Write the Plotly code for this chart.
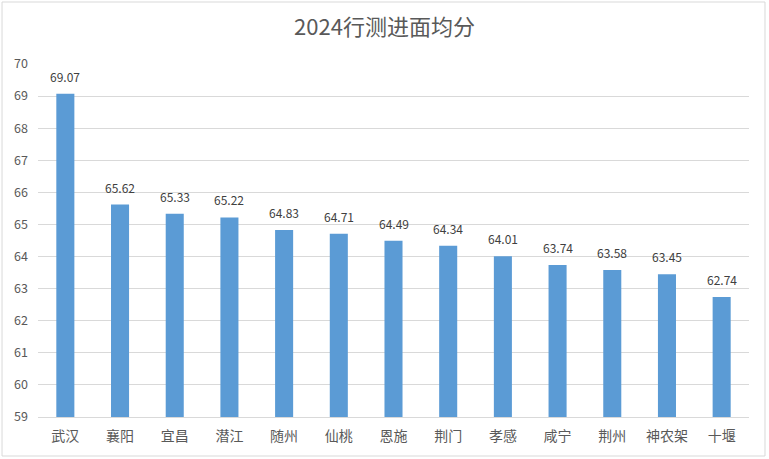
import plotly.graph_objects as go

categories = ["武汉", "襄阳", "宜昌", "潜江", "随州", "仙桃", "恩施", "荆门", "孝感", "咸宁", "荆州", "神农架", "十堰"]
values = [69.07, 65.62, 65.33, 65.22, 64.83, 64.71, 64.49, 64.34, 64.01, 63.74, 63.58, 63.45, 62.74]
title_text = "2024行测进面均分"
y_ticks = list(range(59, 71))

FONT = "Noto Sans CJK SC"

fig = go.Figure(go.Bar(
    x=categories,
    y=values,
    marker=dict(color="#5B9BD5", line=dict(width=0)),
    width=0.33,
    hoverinfo="x+y",
))

annotations = [
    dict(x=c, y=v, xref="x", yref="y", text=f"{v:.2f}", showarrow=False,
         yanchor="bottom", yshift=7, font=dict(family=FONT, size=12, color="#404040"))
    for c, v in zip(categories, values)
]

fig.update_layout(
    width=769, height=459,
    margin=dict(l=38, r=20, t=64, b=42),
    paper_bgcolor="white",
    plot_bgcolor="white",
    showlegend=False,
    title=dict(text=title_text, x=0.5, xanchor="center", y=0.94, yanchor="middle",
               font=dict(family=FONT, size=22, color="#595959")),
    font=dict(family=FONT, size=12, color="#595959"),
    xaxis=dict(showgrid=False, showline=True, linecolor="#D9D9D9", linewidth=1,
               ticks="", tickfont=dict(family=FONT, size=14, color="#595959"),
               ticklabelstandoff=6),
    yaxis=dict(range=[59, 70], tickvals=y_ticks, showgrid=True, gridcolor="#D9D9D9",
               gridwidth=1, zeroline=False, showline=False, ticks="",
               tickfont=dict(family=FONT, size=12.5, color="#595959"), ticklabelstandoff=9),
    annotations=annotations,
    shapes=[dict(type="rect", xref="paper", yref="paper",
                 x0=-0.0506, x1=1.0225, y0=-0.1105, y1=1.1756,
                 line=dict(color="#D9D9D9", width=1), fillcolor="rgba(0,0,0,0)")],
)

fig.write_html("out.html", config={"displayModeBar": False},
               post_script="document.body.style.margin='0px';document.body.style.overflow='hidden';")
